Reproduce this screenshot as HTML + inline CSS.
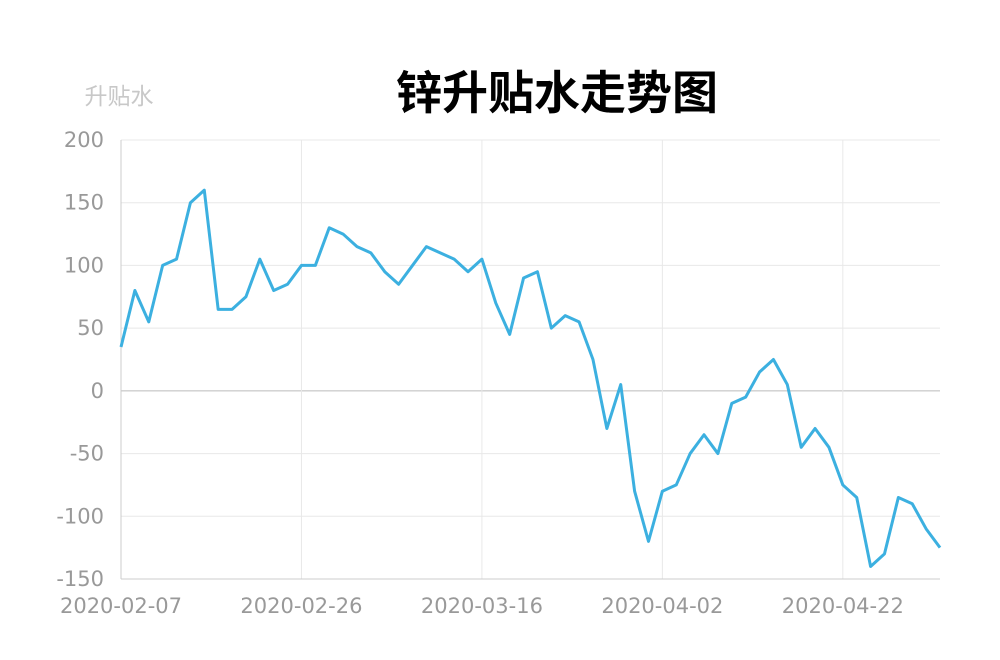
<!DOCTYPE html>
<html><head><meta charset="utf-8"><style>
body{margin:0;background:#fff;}
svg{display:block;font-family:"DejaVu Sans","Noto Sans CJK SC",sans-serif;}
</style></head><body>
<svg id="chart" width="1000" height="660">
<text x="557" y="109" text-anchor="middle" font-size="46" font-weight="bold" fill="#000" font-family="'Noto Sans CJK SC',sans-serif">锌升贴水走势图</text>
<text x="119" y="104" text-anchor="middle" font-size="23" fill="#c8c8c8" font-family="'Noto Sans CJK SC',sans-serif">升贴水</text>
<g id="grid"></g><g id="axes"></g><g id="series"></g>
</svg>
<script>
const categories=["2020-02-07","2020-02-10","2020-02-11","2020-02-12","2020-02-13","2020-02-14","2020-02-17","2020-02-18","2020-02-19","2020-02-20","2020-02-21","2020-02-24","2020-02-25","2020-02-26","2020-02-27","2020-02-28","2020-03-02","2020-03-03","2020-03-04","2020-03-05","2020-03-06","2020-03-09","2020-03-10","2020-03-11","2020-03-12","2020-03-13","2020-03-16","2020-03-17","2020-03-18","2020-03-19","2020-03-20","2020-03-23","2020-03-24","2020-03-25","2020-03-26","2020-03-27","2020-03-30","2020-03-31","2020-04-01","2020-04-02","2020-04-03","2020-04-07","2020-04-08","2020-04-09","2020-04-10","2020-04-13","2020-04-14","2020-04-15","2020-04-16","2020-04-17","2020-04-20","2020-04-21","2020-04-22","2020-04-23","2020-04-24","2020-04-27","2020-04-28","2020-04-29","2020-04-30","2020-05-06"];
const premium=[35,80,55,100,105,150,160,65,65,75,105,80,85,100,100,130,125,115,110,95,85,100,115,110,105,95,105,70,45,90,95,50,60,55,25,-30,5,-80,-120,-80,-75,-50,-35,-50,-10,-5,15,25,5,-45,-30,-45,-75,-85,-140,-130,-85,-90,-110,-125];
const yTicks=[200,150,100,50,0,-50,-100,-150];
const xLabelEvery=13;
const NS="http://www.w3.org/2000/svg";
const L=121,R=940,T=140,B=579,yMin=-150,yMax=200;
const xs=i=>L+(R-L)*i/(categories.length-1);
const ys=v=>B-(v-yMin)/(yMax-yMin)*(B-T);
function mk(p,tag,a){const e=document.createElementNS(NS,tag);for(const k in a)e.setAttribute(k,a[k]);p.appendChild(e);return e;}
const grid=document.getElementById('grid'),axes=document.getElementById('axes'),ser=document.getElementById('series');
yTicks.forEach(v=>{
 const ln=mk(grid,'line',{x1:L,x2:R,y1:ys(v),y2:ys(v),stroke:v===0?'#bbb':'#e8e8e8','stroke-width':1});
 
 
 const t=mk(axes,'text',{x:104,y:ys(v)+7,'text-anchor':'end','font-size':21,fill:'#999'});
 t.textContent=v;
 
 
});
categories.forEach((c,i)=>{
 if(i%xLabelEvery!==0)return;
 const ln=mk(grid,'line',{x1:xs(i),x2:xs(i),y1:T,y2:B,stroke:'#e8e8e8','stroke-width':1});
 
 
 const t=mk(axes,'text',{x:xs(i),y:613,'text-anchor':'middle','font-size':21,fill:'#999'});
 t.textContent=c;
 
 
});
const ya=mk(axes,'line',{x1:L,x2:L,y1:T,y2:B,stroke:'#ccc'});


const xa=mk(axes,'line',{x1:L,x2:R,y1:B,y2:B,stroke:'#ccc'});


const pl=mk(ser,'polyline',{points:premium.map((v,i)=>xs(i)+','+ys(v)).join(' '),fill:'none',stroke:'#3cb0e0','stroke-width':3,'stroke-linejoin':'round'});


</script>
</body></html>
